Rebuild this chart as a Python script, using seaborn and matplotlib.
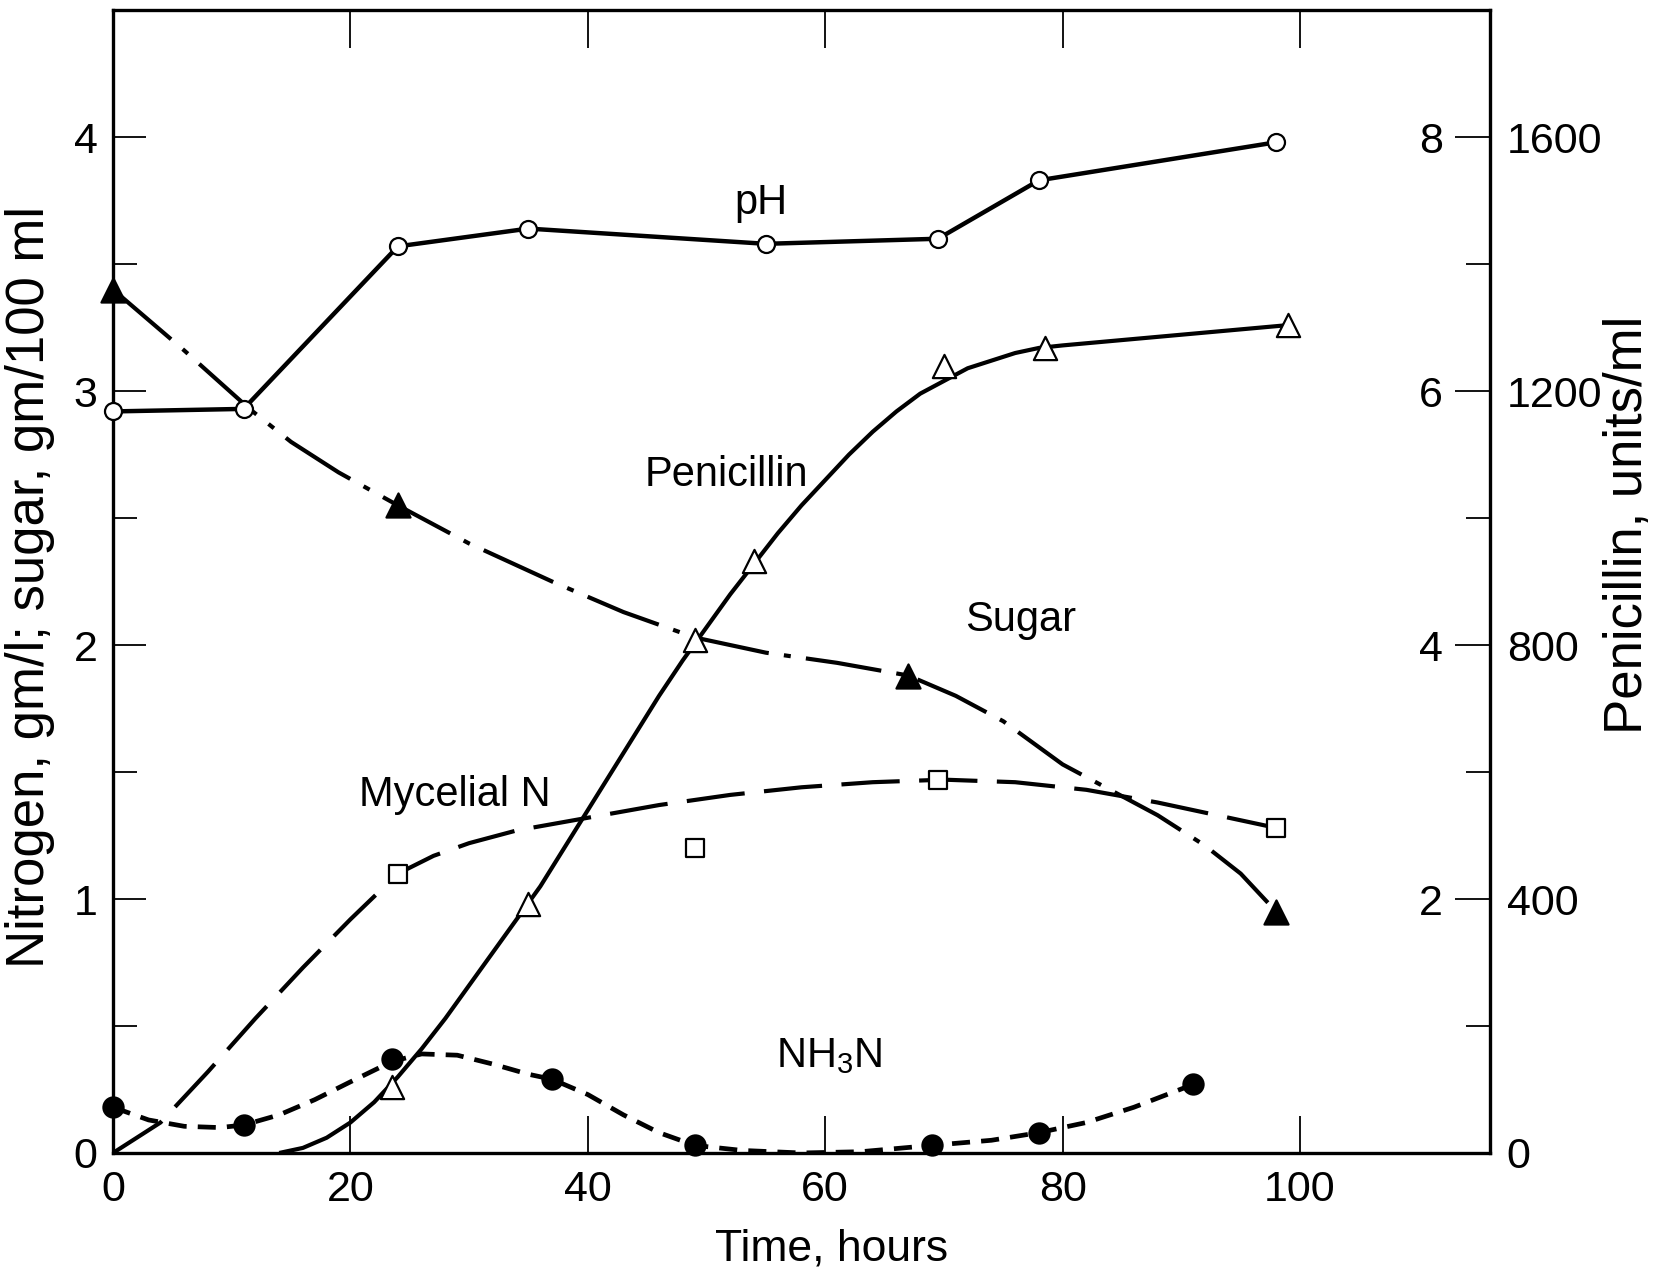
import matplotlib
matplotlib.use("Agg")
import matplotlib.pyplot as plt
import seaborn as sns
import numpy as np
import pandas as pd
from matplotlib.ticker import FixedLocator

# ---------------- data ----------------
ph_hours = [0, 11, 24, 35, 55, 69.5, 78, 98]
ph_values = [5.84, 5.86, 7.14, 7.28, 7.16, 7.2, 7.66, 7.96]

pen_hours = [23.5, 35, 49, 54, 70, 78.5, 99]
pen_units = [104, 392, 808, 932, 1240, 1268, 1304]
pen_curve_hours = [14, 16, 18, 20, 22, 24, 26, 28, 30, 32, 34, 36, 38, 40, 42, 44, 46, 48,
                   50, 52, 54, 56, 58, 60, 62, 64, 66, 68, 70, 72, 74, 76, 78, 80, 99]
pen_curve_units = [0, 8, 24, 48, 80, 120, 164, 212, 264, 316, 368, 420, 480, 540, 600, 660,
                   720, 776, 828, 880, 928, 976, 1020, 1060, 1100, 1136, 1168, 1196, 1216,
                   1236, 1248, 1260, 1268, 1272, 1304]

sugar_hours = [0, 24, 67, 98]
sugar_values = [3.4, 2.55, 1.88, 0.95]
sugar_curve_hours = [0, 6, 11.5, 15, 19, 24, 30, 37, 43, 49, 55, 61, 67, 71, 75, 80, 84, 88,
                     92, 95, 98]
sugar_curve_values = [3.4, 3.16, 2.93, 2.8, 2.68, 2.55, 2.4, 2.25, 2.13, 2.03, 1.97, 1.93,
                      1.88, 1.8, 1.7, 1.53, 1.43, 1.33, 1.21, 1.1, 0.95]

myc_hours = [24, 49, 69.5, 98]
myc_values = [1.1, 1.2, 1.47, 1.28]
myc_curve_hours = [0, 4, 8, 12, 16, 20, 24, 27, 30, 34, 40, 46, 52, 58, 64, 70, 76, 82, 88,
                   93, 98]
myc_curve_values = [0, 0.12, 0.32, 0.53, 0.73, 0.92, 1.1, 1.17, 1.22, 1.27, 1.32, 1.37,
                    1.41, 1.44, 1.46, 1.47, 1.46, 1.43, 1.38, 1.33, 1.28]

nh3_hours = [0, 11, 23.5, 37, 49, 69, 78, 91]
nh3_values = [0.18, 0.11, 0.37, 0.29, 0.03, 0.03, 0.08, 0.27]
nh3_curve_hours = [0, 3, 6, 9, 11, 14, 17, 20, 23.5, 26, 29, 32, 35, 37, 40, 43, 46, 49, 53,
                   58, 63, 69, 74, 78, 82, 86, 91]
nh3_curve_values = [0.18, 0.13, 0.105, 0.1, 0.11, 0.15, 0.21, 0.28, 0.36, 0.39, 0.385, 0.35,
                    0.31, 0.29, 0.23, 0.15, 0.08, 0.03, 0.01, 0.0, 0.005, 0.03, 0.05, 0.08,
                    0.12, 0.18, 0.27]

x_ticks = [0, 20, 40, 60, 80, 100]
left_ticks = [0, 1, 2, 3, 4]
left_minor = [0.5, 1.5, 2.5, 3.5]
ph_ticks = [2, 4, 6, 8]
ph_minor = [1, 3, 5, 7]
pen_ticks = [0, 400, 800, 1200, 1600]

labels = {"pH": (54.6, 3.74), "Penicillin": (51.7, 2.67), "Sugar": (76.5, 2.1),
          "Mycelial N": (28.8, 1.41), "NH$_3$N": (60.3, 0.38)}

# ---------------- style ----------------
sns.set_theme(style="white")
plt.rcParams["font.family"] = ["Liberation Sans", "DejaVu Sans"]
plt.rcParams["mathtext.default"] = "regular"
plt.rcParams["lines.scale_dashes"] = False

K = "black"
LW = 3.0

fig = plt.figure(figsize=(16.62, 12.74), dpi=100)
ax = fig.add_axes([0.068, 0.095, 0.8285, 0.897])
ax_ph = ax.twinx()
ax_pen = ax.twinx()

ax.set_xlim(0, 116)
ax.set_ylim(0, 4.5)
ax_ph.set_ylim(0, 9)
ax_pen.set_ylim(0, 1800)


def curve(axis, xs, ys, dashes=None, lw=LW):
    sns.lineplot(x=xs, y=ys, ax=axis, color=K, linewidth=lw, estimator=None,
                 sort=False, legend=False)
    line = axis.lines[-1]
    line.set_solid_capstyle("butt")
    line.set_solid_joinstyle("round")
    if dashes is not None:
        line.set_dashes(dashes)
        line.set_dash_capstyle("butt")


def points(axis, xs, ys, marker, size, filled):
    sns.scatterplot(x=xs, y=ys, ax=axis, marker=marker, s=size,
                    color=K if filled else "white", edgecolor=K, linewidth=1.6,
                    zorder=5, clip_on=False, legend=False)


# Mycelial N (long dash)
curve(ax, myc_curve_hours, myc_curve_values, dashes=[42, 14])
points(ax, myc_hours, myc_values, "s", 170, False)

# Sugar (dash-dot)
curve(ax, sugar_curve_hours, sugar_curve_values, dashes=[55, 11, 5, 11])
points(ax, sugar_hours, sugar_values, "^", 300, True)

# NH3 N (short dash)
curve(ax, nh3_curve_hours, nh3_curve_values, dashes=[13, 8], lw=3.4)
points(ax, nh3_hours, nh3_values, "o", 210, True)

# pH (solid, straight segments)
curve(ax_ph, ph_hours, ph_values, lw=3.2)
points(ax_ph, ph_hours, ph_values, "o", 150, False)

# Penicillin (solid smooth curve)
curve(ax_pen, pen_curve_hours, pen_curve_units, lw=3.0)
points(ax_pen, pen_hours, pen_units, "^", 280, False)

# ---------------- axes styling ----------------
for a in (ax_ph, ax_pen):
    for s in a.spines.values():
        s.set_visible(False)
    a.grid(False)
for s in ax.spines.values():
    s.set_visible(True)
    s.set_color(K)
    s.set_linewidth(2.4)
ax.grid(False)

ax.set_xticks(x_ticks)
ax.tick_params(axis="x", which="major", direction="in", length=27, width=1.3,
               top=True, bottom=True, labelsize=31, pad=12, colors=K)
ax.set_yticks(left_ticks)
ax.yaxis.set_minor_locator(FixedLocator(left_minor))
ax.tick_params(axis="y", which="major", direction="in", length=24, width=1.3,
               left=True, right=False, labelsize=31, pad=11, colors=K)
ax.tick_params(axis="y", which="minor", direction="in", length=17, width=1.3,
               left=True, right=False, colors=K)

ax_ph.set_yticks(ph_ticks)
ax_ph.yaxis.set_minor_locator(FixedLocator(ph_minor))
ax_ph.tick_params(axis="y", which="major", direction="in", length=25, width=1.3,
                  right=True, left=False, labelright=True, labelleft=False,
                  labelsize=31, pad=-34, colors=K)
ax_ph.tick_params(axis="y", which="minor", direction="in", length=17, width=1.3,
                  right=True, left=False, colors=K)
plt.setp(ax_ph.yaxis.get_majorticklabels(), ha="right")

ax_pen.set_yticks(pen_ticks)
ax_pen.tick_params(axis="y", which="major", length=0, right=True, left=False,
                   labelright=True, labelleft=False, labelsize=31, pad=12, colors=K)
ax_pen.set_xticks(x_ticks)

ax.set_xlabel("Time, hours", fontsize=32, color=K)
ax.xaxis.set_label_coords(0.522, -0.084)
ax.xaxis.label.set_va("center")
ax.set_ylabel("Nitrogen, gm/l; sugar, gm/100 ml", fontsize=38, color=K)
ax.yaxis.set_label_coords(-0.06, 0.495)
ax.yaxis.label.set_va("center")
ax_ph.set_ylabel("")
ax_pen.set_ylabel("Penicillin, units/ml", fontsize=38, color=K)
ax_pen.yaxis.set_label_coords(1.1, 0.55)
ax_pen.yaxis.label.set_va("center")
ax_pen.yaxis.label.set_ha("center")

for txt, (tx, ty) in labels.items():
    ax.text(tx, ty, txt, ha="center", va="center", fontsize=30, color=K, zorder=6)

fig.savefig("out.png", dpi=100, facecolor="white")
